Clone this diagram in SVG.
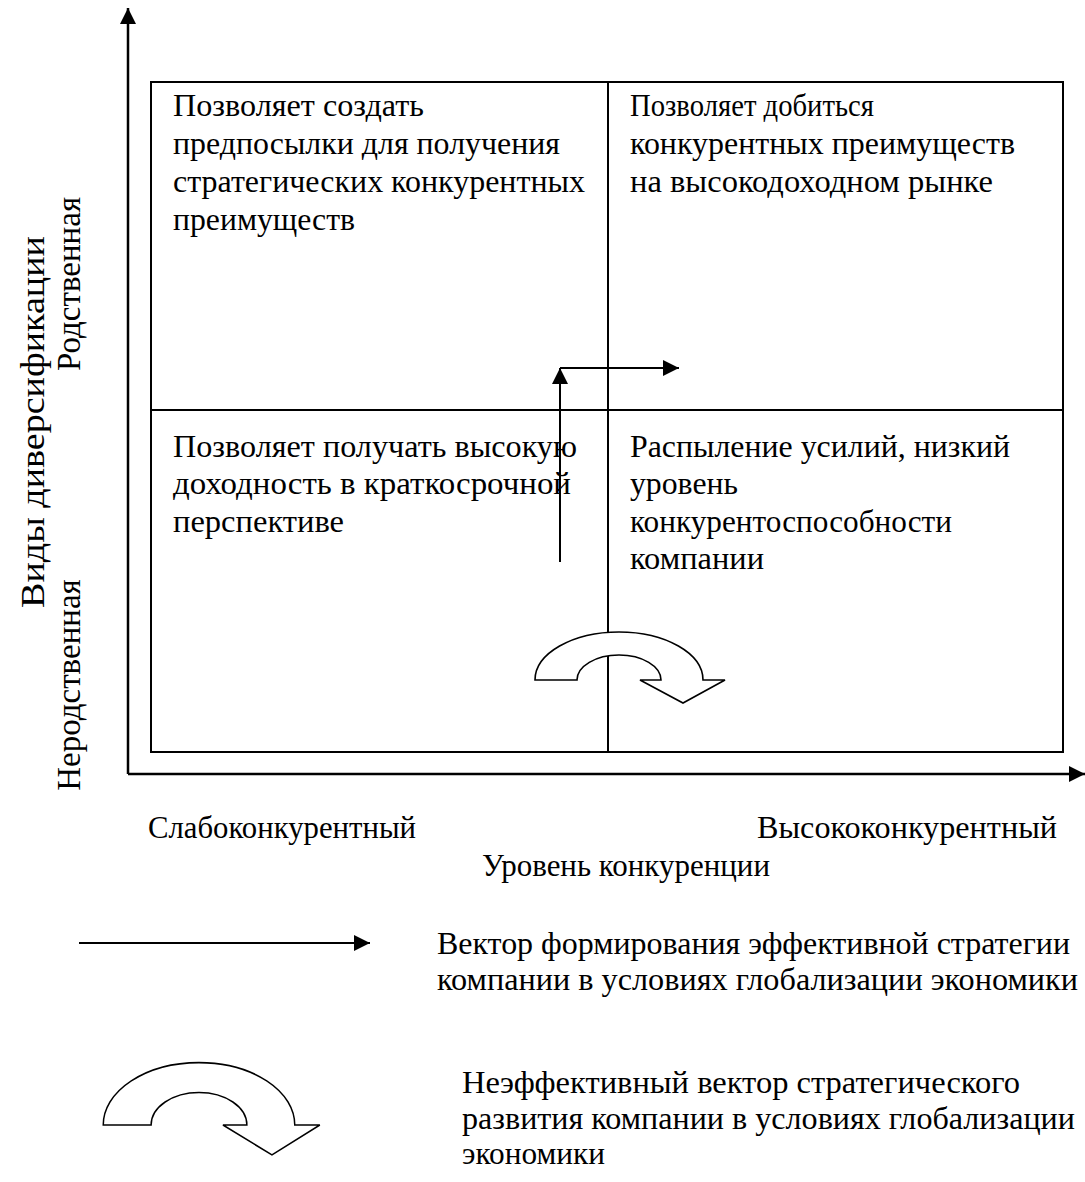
<svg xmlns="http://www.w3.org/2000/svg" width="1085" height="1182" viewBox="0 0 1085 1182">
  <style>
    text { font-family: "Liberation Serif", "Times New Roman", serif; font-size: 31px; fill: #000; }
    .vlabel { font-size: 33px; }
    .line { stroke: #000; stroke-width: 2; fill: none; }
    .axis { stroke: #000; stroke-width: 2.5; fill: none; }
    .curl { stroke: #000; stroke-width: 1.6; fill: #fff; stroke-linejoin: miter; }
  </style>
  <defs>
    <marker id="head" viewBox="0 0 10 10" refX="10" refY="5" markerWidth="16" markerHeight="16" markerUnits="userSpaceOnUse" orient="auto">
      <path d="M0,0 L10,5 L0,10 Z" fill="#000"/>
    </marker>
    <marker id="axisHead" viewBox="0 0 10 10" refX="10" refY="5" markerWidth="16" markerHeight="16" markerUnits="userSpaceOnUse" orient="auto">
      <path d="M0,0 L10,5 L0,10 Z" fill="#000"/>
    </marker>
    <!-- curled "turn-back" arrow, origin at the centre of its base line -->
    <path id="curl" d="M-42,0 A42,25 0 0 1 42,0 L21,0 L64,23 L106,0 L84,0 A84,48 0 0 0 -84,0 Z"/>
  </defs>

  <!-- axes -->
  <g id="axes">
    <line class="axis" x1="128" y1="774" x2="128" y2="8" marker-end="url(#axisHead)"/>
    <line class="axis" x1="128" y1="774" x2="1085" y2="774" marker-end="url(#axisHead)"/>
  </g>

  <!-- 2x2 matrix frame -->
  <g id="matrix">
    <rect class="line" x="151" y="82" width="912" height="670"/>
    <line class="line" x1="608" y1="82" x2="608" y2="752"/>
    <line class="line" x1="151" y1="410" x2="1063" y2="410"/>
  </g>

  <g id="cell-top-left">
    <text x="173" y="116" textLength="251" lengthAdjust="spacingAndGlyphs">Позволяет создать</text>
    <text x="173" y="154" textLength="387" lengthAdjust="spacingAndGlyphs">предпосылки для получения</text>
    <text x="173" y="192" textLength="412" lengthAdjust="spacingAndGlyphs">стратегических конкурентных</text>
    <text x="173" y="230" textLength="182" lengthAdjust="spacingAndGlyphs">преимуществ</text>
  </g>
  <g id="cell-top-right">
    <text x="630" y="116" textLength="244" lengthAdjust="spacingAndGlyphs">Позволяет добиться</text>
    <text x="630" y="154" textLength="385" lengthAdjust="spacingAndGlyphs">конкурентных преимуществ</text>
    <text x="630" y="192" textLength="363" lengthAdjust="spacingAndGlyphs">на высокодоходном рынке</text>
  </g>
  <g id="cell-bottom-left">
    <text x="173" y="457" textLength="404" lengthAdjust="spacingAndGlyphs">Позволяет получать высокую</text>
    <text x="173" y="494" textLength="398" lengthAdjust="spacingAndGlyphs">доходность в краткосрочной</text>
    <text x="173" y="532" textLength="171" lengthAdjust="spacingAndGlyphs">перспективе</text>
  </g>
  <g id="cell-bottom-right">
    <text x="630" y="457" textLength="380" lengthAdjust="spacingAndGlyphs">Распыление усилий, низкий</text>
    <text x="630" y="494" textLength="108" lengthAdjust="spacingAndGlyphs">уровень</text>
    <text x="630" y="532" textLength="322" lengthAdjust="spacingAndGlyphs">конкурентоспособности</text>
    <text x="630" y="569" textLength="134" lengthAdjust="spacingAndGlyphs">компании</text>
  </g>

  <!-- connectors inside the matrix -->
  <g id="connectors">
    <polyline class="line" points="560,562 560,368" marker-end="url(#head)"/>
    <polyline class="line" points="560,368 679,368" marker-end="url(#head)"/>
    <use href="#curl" class="curl" transform="translate(619,680)"/>
  </g>

  <!-- axis labels -->
  <g id="axis-labels">
    <text x="148" y="838" textLength="268" lengthAdjust="spacingAndGlyphs">Слабоконкурентный</text>
    <text x="757" y="838" textLength="300" lengthAdjust="spacingAndGlyphs">Высококонкурентный</text>
    <text x="482" y="876" textLength="288" lengthAdjust="spacingAndGlyphs">Уровень конкуренции</text>
    <text class="vlabel" transform="translate(44,422) rotate(-90)" text-anchor="middle" textLength="372" lengthAdjust="spacingAndGlyphs">Виды диверсификации</text>
    <text class="vlabel" transform="translate(80,284) rotate(-90)" text-anchor="middle">Родственная</text>
    <text class="vlabel" transform="translate(80,685) rotate(-90)" text-anchor="middle">Неродственная</text>
  </g>

  <!-- legend -->
  <g id="legend-effective">
    <line class="line" x1="79" y1="943" x2="370" y2="943" marker-end="url(#head)"/>
    <text x="437" y="954" textLength="633" lengthAdjust="spacingAndGlyphs">Вектор формирования эффективной стратегии</text>
    <text x="437" y="990" textLength="641" lengthAdjust="spacingAndGlyphs">компании в условиях глобализации экономики</text>
  </g>
  <g id="legend-ineffective">
    <use href="#curl" class="curl" transform="translate(199,1125) scale(1.14,1.3)" style="stroke-width:1.3"/>
    <text x="462" y="1093" textLength="558" lengthAdjust="spacingAndGlyphs">Неэффективный вектор стратегического</text>
    <text x="462" y="1129" textLength="613" lengthAdjust="spacingAndGlyphs">развития компании в условиях глобализации</text>
    <text x="462" y="1164" textLength="143" lengthAdjust="spacingAndGlyphs">экономики</text>
  </g>
</svg>
